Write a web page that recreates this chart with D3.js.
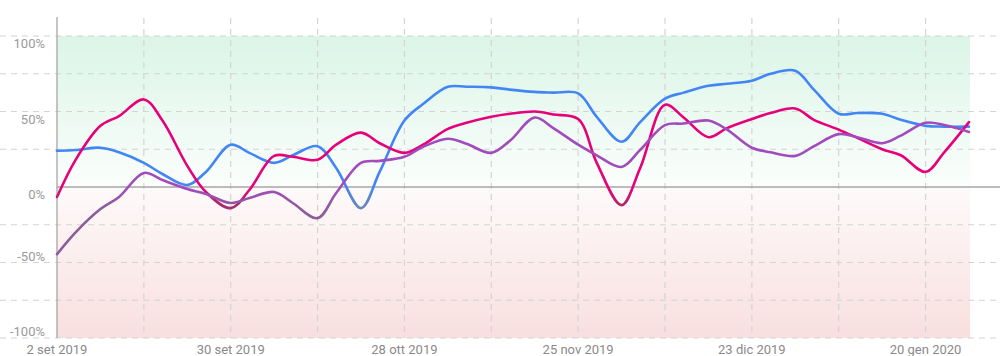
<!DOCTYPE html>
<html>
<head>
<meta charset="utf-8">
<script src="https://cdn.jsdelivr.net/npm/d3@7"></script>
<style>
  html, body { margin: 0; padding: 0; background: #fff; }
  svg { display: block; font-family: Roboto, "Noto Sans", sans-serif; }
</style>
</head>
<body>
<svg id="chart" width="1000" height="356"></svg>
<script>
// Dates: Mondays and Thursdays, 2 Sep 2019 .. 27 Jan 2020
const dates = [
  "2019-09-02","2019-09-05","2019-09-09","2019-09-12","2019-09-16","2019-09-19",
  "2019-09-23","2019-09-26","2019-09-30","2019-10-03","2019-10-07","2019-10-10",
  "2019-10-14","2019-10-17","2019-10-21","2019-10-24","2019-10-28","2019-10-31",
  "2019-11-04","2019-11-07","2019-11-11","2019-11-14","2019-11-18","2019-11-21",
  "2019-11-25","2019-11-28","2019-12-02","2019-12-05","2019-12-09","2019-12-12",
  "2019-12-16","2019-12-19","2019-12-23","2019-12-26","2019-12-30","2020-01-02",
  "2020-01-06","2020-01-09","2020-01-13","2020-01-16","2020-01-20","2020-01-23",
  "2020-01-27"
];
const blueValues = [
  24, 24.5, 26, 23, 16, 8.6, 1.3, 10, 28, 22.6, 16, 21, 27, 12.6, -14, 10,
  44, 55, 66.4, 66.4, 66, 64.5, 63, 62.5, 62, 46.5, 30, 43, 58.5, 62.5,
  67, 68.4, 70.4, 75, 77, 64.5, 48.5, 49, 48.5, 44.5, 40.5, 40, 40
];
const pinkValues = [
  -6.6, 18, 40.5, 47, 58, 44, 14, -3.3, -14, -2, 20.6, 20, 18, 28, 36, 29,
  22.6, 28, 38.5, 42.5, 46.5, 48.5, 50, 48, 45, 16, -12, 12.6, 54.5, 46,
  33, 39, 45, 49, 52, 44.5, 38, 32.5, 25, 21, 10, 23, 43
];
const purpleValues = [
  -44.5, -30, -14.6, -6.6, 9.3, 4.6, -1.3, -4.6, -10.6, -7.3, -3.3, -10.6, -20.6, -4, 16, 17.3,
  20, 26.6, 32, 28.6, 22.6, 30.6, 46, 39, 28, 21, 13.3, 24.6, 41, 42,
  44, 38, 26, 23, 20.6, 27, 35, 33, 29, 34, 42.5, 41, 36.5
];
const yTickValues = [-100, -50, 0, 50, 100];
const yGridValues = [-100, -75, -50, -25, 25, 50, 75, 100];
const xLabelDates = ["2019-09-02","2019-09-30","2019-10-28","2019-11-25","2019-12-23","2020-01-20"];
const monthsIt = ["gen","feb","mar","apr","mag","giu","lug","ago","set","ott","nov","dic"];

const series = [
  { name: "blue",   values: blueValues,   color: "#4285f4", muted: "#6a86b6" },
  { name: "pink",   values: pinkValues,   color: "#e6007a", muted: "#a32f6a" },
  { name: "purple", values: purpleValues, color: "#a24bbd", muted: "#8b5d99" }
];

const W = 1000;
const parse = d3.utcParse("%Y-%m-%d");
const dateObjs = dates.map(parse);
const startDate = parse("2019-09-02"), endDate = parse("2020-01-27");

const x = d3.scaleUtc().domain([startDate, endDate]).range([57, 969]);
const y = d3.scaleLinear().domain([-100, 100]).range([338, 36]);

const svg = d3.select("#chart");
const defs = svg.append("defs");

// Background gradients
const gGreen = defs.append("linearGradient").attr("id", "bgGreen")
  .attr("x1", 0).attr("x2", 0).attr("y1", 0).attr("y2", 1);
gGreen.append("stop").attr("offset", "0%").attr("stop-color", "#dbf5e7");
gGreen.append("stop").attr("offset", "100%").attr("stop-color", "#fbfefc");
const gRed = defs.append("linearGradient").attr("id", "bgRed")
  .attr("x1", 0).attr("x2", 0).attr("y1", 0).attr("y2", 1);
gRed.append("stop").attr("offset", "0%").attr("stop-color", "#fefafa");
gRed.append("stop").attr("offset", "100%").attr("stop-color", "#f9dfdf");

const xEnd = x(endDate) + 1;
svg.append("rect").attr("x", x(startDate)).attr("y", y(100))
  .attr("width", xEnd - x(startDate)).attr("height", y(0) - y(100))
  .attr("fill", "url(#bgGreen)");
svg.append("rect").attr("x", x(startDate)).attr("y", y(0))
  .attr("width", xEnd - x(startDate)).attr("height", y(-100) - y(0))
  .attr("fill", "url(#bgRed)");

// Horizontal grid lines
svg.append("g").selectAll("line").data(yGridValues).join("line")
  .attr("x1", 0).attr("x2", W)
  .attr("y1", d => y(d)).attr("y2", d => y(d))
  .attr("stroke", "#d4d4d4").attr("stroke-width", 1.2)
  .attr("stroke-dasharray", "6,5");

// Vertical grid lines (every 2 weeks)
const gridDates = d3.utcDay.range(d3.utcDay.offset(startDate, 14), endDate, 14);
svg.append("g").selectAll("line").data(gridDates).join("line")
  .attr("x1", d => x(d)).attr("x2", d => x(d))
  .attr("y1", 18).attr("y2", 338)
  .attr("stroke", "#d4d4d4").attr("stroke-width", 1.2)
  .attr("stroke-dasharray", "6,5");

// Zero line and y axis line
svg.append("line").attr("x1", 57).attr("x2", W).attr("y1", y(0)).attr("y2", y(0))
  .attr("stroke", "#a6a6a6").attr("stroke-width", 1.3);
svg.append("line").attr("x1", 57).attr("x2", 57).attr("y1", 17).attr("y2", 338)
  .attr("stroke", "#a6a6a6").attr("stroke-width", 1.3);

// Y labels
svg.append("g").selectAll("text").data(yTickValues).join("text")
  .attr("x", 45)
  .attr("y", d => d >= 0 ? y(d) + 12 : y(d) - 2)
  .attr("text-anchor", "end")
  .attr("font-size", 13)
  .attr("fill", "#9a9a9a")
  .text(d => d + "%");

// X labels
const fmt = d => d.getUTCDate() + " " + monthsIt[d.getUTCMonth()] + " " + d.getUTCFullYear();
svg.append("g").selectAll("text").data(xLabelDates.map(parse)).join("text")
  .attr("x", d => x(d))
  .attr("y", 354)
  .attr("text-anchor", "middle")
  .attr("font-size", 13)
  .attr("fill", "#8a8a8a")
  .text(fmt);

// Lines
series.forEach(s => {
  const gid = "lg-" + s.name;
  const lg = defs.append("linearGradient").attr("id", gid)
    .attr("gradientUnits", "userSpaceOnUse")
    .attr("x1", 0).attr("x2", 0).attr("y1", y(0)).attr("y2", y(-14));
  lg.append("stop").attr("offset", "0%").attr("stop-color", s.color);
  lg.append("stop").attr("offset", "100%").attr("stop-color", s.muted);
  const line = d3.line()
    .x((d, i) => x(dateObjs[i]))
    .y(d => y(d))
    .curve(d3.curveCatmullRom.alpha(0.5));
  svg.append("path").datum(s.values)
    .attr("d", line)
    .attr("fill", "none")
    .attr("stroke", `url(#${gid})`)
    .attr("stroke-width", 2.6)
    .attr("stroke-linejoin", "round")
    .attr("stroke-linecap", "round");
});
</script>
</body>
</html>
